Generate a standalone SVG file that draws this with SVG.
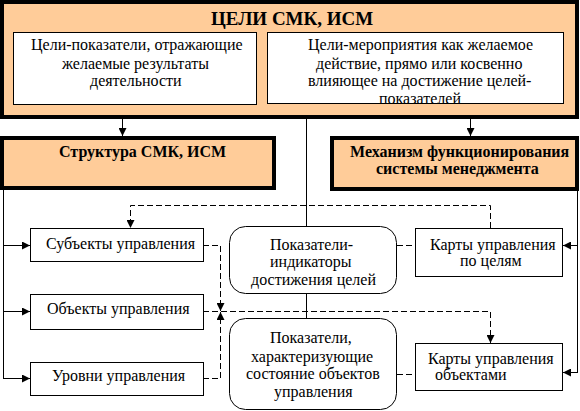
<svg xmlns="http://www.w3.org/2000/svg" width="580" height="411" viewBox="0 0 580 411">
<style>
.t{font-size:16px;fill:#000}
.h{font-size:19px}
.orange{fill:#FFCC99;stroke:#000;stroke-width:4}
.box{fill:#fff;stroke:#000;stroke-width:1}
.ln{fill:none;stroke:#000;stroke-width:1}
.ds{fill:none;stroke:#000;stroke-width:1;stroke-dasharray:6 3}
</style>
<defs>
<marker id="ah" viewBox="0 0 8 8" refX="8" refY="4" markerWidth="8" markerHeight="8" markerUnits="userSpaceOnUse" orient="auto">
<path d="M0,0 L8,4 L0,8 Z" fill="#000"/>
</marker>
<clipPath id="rc"><rect x="267" y="32" width="296" height="71"/></clipPath>
</defs>

<g id="goals">
<rect class="orange" x="2" y="2" width="575" height="115"/>
<text class="t h" font-family="Liberation Serif" font-weight="bold" x="211" y="25">ЦЕЛИ СМК, ИСМ</text>
</g>
<g id="goal-indicators">
<rect class="box" x="13.5" y="32.5" width="243" height="72"/>
<text class="t" font-family="Liberation Serif" x="31" y="50">Цели-показатели, отражающие</text>
<text class="t" font-family="Liberation Serif" x="62" y="69">желаемые результаты</text>
<text class="t" font-family="Liberation Serif" x="90" y="86">деятельности</text>
</g>
<g id="goal-measures">
<rect class="box" x="267.5" y="32.5" width="296" height="71"/>
<g clip-path="url(#rc)">
<text class="t" font-family="Liberation Serif" x="308" y="50">Цели-мероприятия как желаемое</text>
<text class="t" font-family="Liberation Serif" x="316" y="69">действие, прямо или косвенно</text>
<text class="t" font-family="Liberation Serif" x="308" y="86">влияющее на достижение целей-</text>
<text class="t" font-family="Liberation Serif" x="379" y="104">показателей</text>
</g>
</g>
<g id="structure">
<rect class="orange" x="2" y="138" width="272" height="50"/>
<text class="t" font-family="Liberation Serif" font-weight="bold" x="59" y="157">Структура СМК, ИСМ</text>
</g>
<g id="mechanism">
<rect class="orange" x="332" y="138" width="245" height="51"/>
<text class="t" font-family="Liberation Serif" font-weight="bold" x="350" y="157">Механизм функционирования</text>
<text class="t" font-family="Liberation Serif" font-weight="bold" x="376" y="174">системы менеджмента</text>
</g>
<g id="subjects">
<rect class="box" x="30.5" y="228.5" width="173" height="33"/>
<text class="t" font-family="Liberation Serif" x="46" y="249">Субъекты управления</text>
</g>
<g id="objects">
<rect class="box" x="30.5" y="294.5" width="173" height="35"/>
<text class="t" font-family="Liberation Serif" x="47" y="314">Объекты управления</text>
</g>
<g id="levels">
<rect class="box" x="30.5" y="362.5" width="173" height="33"/>
<text class="t" font-family="Liberation Serif" x="52" y="381">Уровни управления</text>
</g>
<g id="indicators">
<rect class="box" x="229.5" y="226.5" width="167" height="67" rx="16"/>
<text class="t" font-family="Liberation Serif" x="270" y="250">Показатели-</text>
<text class="t" font-family="Liberation Serif" x="270" y="267">индикаторы</text>
<text class="t" font-family="Liberation Serif" x="251" y="285">достижения целей</text>
</g>
<g id="state-indicators">
<rect class="box" x="229.5" y="318.5" width="167" height="91" rx="16"/>
<text class="t" font-family="Liberation Serif" x="270" y="343">Показатели,</text>
<text class="t" font-family="Liberation Serif" x="251" y="362">характеризующие</text>
<text class="t" font-family="Liberation Serif" x="246" y="379">состояние объектов</text>
<text class="t" font-family="Liberation Serif" x="274" y="397">управления</text>
</g>
<g id="goal-maps">
<rect class="box" x="415.5" y="228.5" width="147" height="48"/>
<text class="t" font-family="Liberation Serif" x="430" y="250">Карты управления</text>
<text class="t" font-family="Liberation Serif" x="460" y="266">по целям</text>
</g>
<g id="object-maps">
<rect class="box" x="415.5" y="343.5" width="147" height="47"/>
<text class="t" font-family="Liberation Serif" x="428" y="364">Карты управления</text>
<text class="t" font-family="Liberation Serif" x="435" y="380">объектами</text>
</g>

<g id="connectors">
<line class="ln" x1="122.5" y1="119" x2="122.5" y2="136" marker-end="url(#ah)"/>
<line class="ln" x1="470.5" y1="119" x2="470.5" y2="136" marker-end="url(#ah)"/>
<line class="ln" x1="306.5" y1="119" x2="306.5" y2="226"/>
<line class="ln" x1="306.5" y1="294" x2="306.5" y2="318"/>
<path class="ln" d="M3.5,190 V378.5"/>
<line class="ln" x1="3" y1="245.5" x2="30" y2="245.5" marker-end="url(#ah)"/>
<line class="ln" x1="3" y1="311.5" x2="30" y2="311.5" marker-end="url(#ah)"/>
<line class="ln" x1="3" y1="378.5" x2="30" y2="378.5" marker-end="url(#ah)"/>
<path class="ln" d="M577.5,191 V372.5"/>
<line class="ln" x1="578" y1="245.5" x2="563" y2="245.5" marker-end="url(#ah)"/>
<line class="ln" x1="578" y1="372.5" x2="563" y2="372.5" marker-end="url(#ah)"/>
<path class="ds" d="M203,245.5 H220.5 V311" marker-end="url(#ah)"/>
<path class="ds" d="M203,378.5 H220.5 V312" marker-end="url(#ah)"/>
<path class="ds" d="M203,311.5 H490.5 V343" marker-end="url(#ah)"/>
<path class="ds" d="M490.5,228 V205.5 H130.5 V228" marker-end="url(#ah)"/>
<line class="ds" x1="397" y1="245.5" x2="415" y2="245.5"/>
<line class="ds" x1="397" y1="374.5" x2="415" y2="374.5"/>
</g>
</svg>
